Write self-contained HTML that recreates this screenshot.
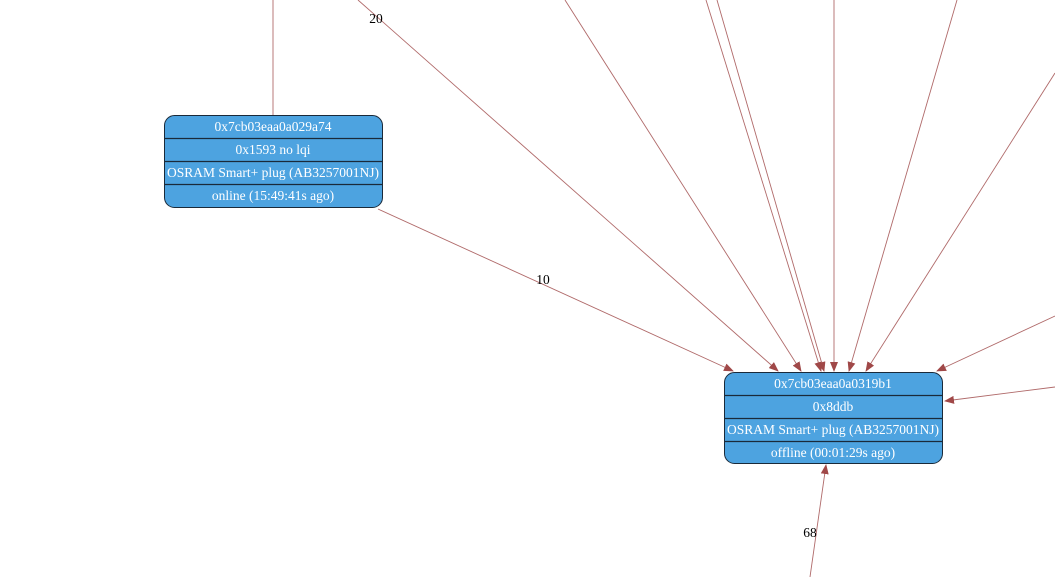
<!DOCTYPE html>
<html><head><meta charset="utf-8"><style>
html,body{margin:0;padding:0;background:#fff;}
svg{display:block;}
text{font-family:"Liberation Serif",serif;font-size:13.5px;}
</style></head><body>
<svg width="1055" height="577" viewBox="0 0 1055 577" xmlns="http://www.w3.org/2000/svg">
<defs>
<marker id="a" markerWidth="10" markerHeight="8" refX="9" refY="4" orient="auto" markerUnits="userSpaceOnUse">
<path d="M0,0 L10,4 L0,8 z" fill="#a04848"/>
</marker>
</defs>
<g stroke="#b06a6a" stroke-width="0.9" fill="none">
<line x1="273" y1="0" x2="273" y2="115"/>
<line x1="358" y1="0" x2="778" y2="371" marker-end="url(#a)"/>
<line x1="378" y1="209" x2="733" y2="371" marker-end="url(#a)"/>
<line x1="565" y1="0" x2="801" y2="371" marker-end="url(#a)"/>
<line x1="706" y1="0" x2="821" y2="371" marker-end="url(#a)"/>
<line x1="717" y1="0" x2="824" y2="371" marker-end="url(#a)"/>
<line x1="834" y1="0" x2="834" y2="371" marker-end="url(#a)"/>
<line x1="957" y1="0" x2="849" y2="371" marker-end="url(#a)"/>
<line x1="1055" y1="73" x2="866" y2="371" marker-end="url(#a)"/>
<line x1="1055" y1="316" x2="937" y2="371" marker-end="url(#a)"/>
<line x1="1055" y1="387" x2="945" y2="401" marker-end="url(#a)"/>
<line x1="810" y1="577" x2="826" y2="465" marker-end="url(#a)"/>
</g>
<text x="376" y="23" text-anchor="middle" font-size="12">20</text>
<text x="543" y="284" text-anchor="middle" font-size="12">10</text>
<text x="810" y="537" text-anchor="middle" font-size="12">68</text>

<g>
<rect x="164.5" y="115.5" width="218" height="92" rx="10" fill="#4da3e0" stroke="#1a2a3a"/>
<g stroke="#1a2a3a" stroke-width="1.3"><line x1="164.5" y1="138.5" x2="382.5" y2="138.5"/><line x1="164.5" y1="161.5" x2="382.5" y2="161.5"/><line x1="164.5" y1="184.5" x2="382.5" y2="184.5"/></g>
<g fill="#fff" text-anchor="middle">
<text x="273" y="131">0x7cb03eaa0a029a74</text>
<text x="273" y="154">0x1593 no lqi</text>
<text x="273" y="177">OSRAM Smart+ plug (AB3257001NJ)</text>
<text x="273" y="200">online (15:49:41s ago)</text>
</g>
</g>
<g>
<rect x="724.5" y="372.5" width="218" height="91" rx="10" fill="#4da3e0" stroke="#1a2a3a"/>
<g stroke="#1a2a3a" stroke-width="1.3"><line x1="724.5" y1="395.5" x2="942.5" y2="395.5"/><line x1="724.5" y1="418.5" x2="942.5" y2="418.5"/><line x1="724.5" y1="441.5" x2="942.5" y2="441.5"/></g>
<g fill="#fff" text-anchor="middle">
<text x="833" y="388">0x7cb03eaa0a0319b1</text>
<text x="833" y="411">0x8ddb</text>
<text x="833" y="434">OSRAM Smart+ plug (AB3257001NJ)</text>
<text x="833" y="457">offline (00:01:29s ago)</text>
</g>
</g>
</svg>
</body></html>
